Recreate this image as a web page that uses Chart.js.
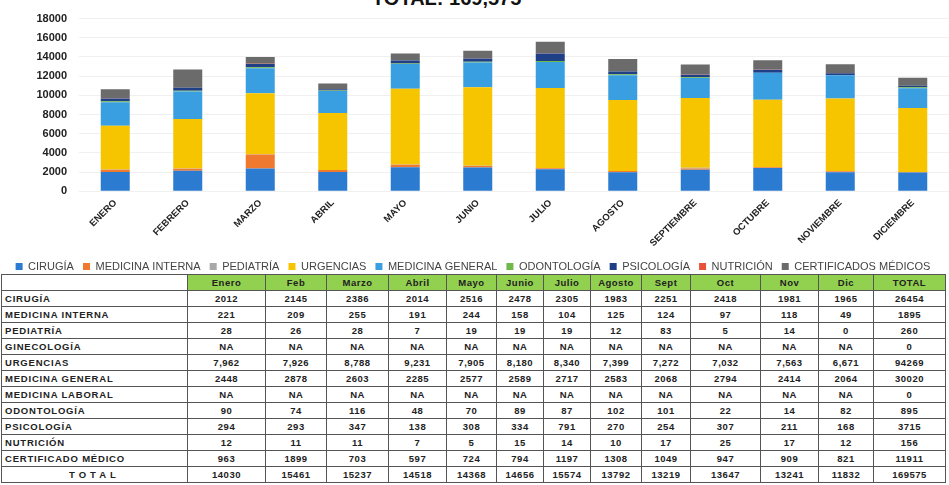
<!DOCTYPE html>
<html>
<head>
<meta charset="utf-8">
<script src="https://cdn.jsdelivr.net/npm/chart.js@4.4.1/dist/chart.umd.min.js"></script>
<style>
  html, body { margin: 0; padding: 0; background: #fff; }
  body { width: 949px; height: 485px; position: relative; overflow: hidden; font-family: Arial, "Liberation Sans", sans-serif; }
  #title { position: absolute; left: 372px; top: -13px; font-size: 20px; font-weight: bold; color: #111; white-space: nowrap; }
  #chartBox { position: absolute; left: 0; top: 0; width: 949px; height: 282px; }
  #tbl { position: absolute; left: 1px; top: 274px; border-collapse: collapse; table-layout: fixed; background: #fff; }
  #tbl td { border: 1px solid #555; height: 15px; padding: 0 3px; font-size: 9.5px; font-weight: bold; color: #222;
            letter-spacing: 0.5px; text-align: center; white-space: nowrap; overflow: hidden; }
  #tbl td.lbl { text-align: left; letter-spacing: 0.8px; }
  #tbl tr.head td { background: #92d050; }
  #tbl tr.head td.blank { background: #fff; }
  #tbl tr.tot td.lbl { text-align: center; letter-spacing: 4px; }
</style>
</head>
<body>
<div id="title">TOTAL: 169,575</div>
<div id="chartBox"><canvas id="c"></canvas></div>
<table id="tbl"></table>
<script>
const months = ['ENERO', 'FEBRERO', 'MARZO', 'ABRIL', 'MAYO', 'JUNIO', 'JULIO', 'AGOSTO', 'SEPTIEMBRE', 'OCTUBRE', 'NOVIEMBRE', 'DICIEMBRE'];

// chart series
const cirugia      = [2012, 2145, 2386, 2014, 2516, 2478, 2305, 1983, 2251, 2418, 1981, 1965];
const medInterna   = [221, 209, 1436, 191, 244, 158, 104, 125, 124, 97, 118, 49];
const pediatria    = [28, 26, 28, 7, 19, 19, 19, 12, 83, 5, 14, 0];
const urgencias    = [4580, 5155, 6360, 5950, 7905, 8180, 8340, 7399, 7272, 7032, 7563, 6671];
const medGeneral   = [2448, 2878, 2603, 2285, 2577, 2589, 2717, 2583, 2068, 2794, 2414, 2064];
const odontologia  = [90, 74, 116, 48, 70, 89, 87, 102, 101, 22, 14, 82];
const psicologia   = [294, 293, 347, 138, 308, 334, 791, 270, 254, 307, 211, 168];
const nutricion    = [12, 11, 11, 7, 5, 15, 14, 10, 17, 25, 17, 12];
const certificados = [963, 1899, 703, 597, 724, 794, 1197, 1308, 1049, 947, 909, 821];

const yMax = 18000;
const yStep = 2000;

// table below the chart
const tableHead = ['Enero', 'Feb', 'Marzo', 'Abril', 'Mayo', 'Junio', 'Julio', 'Agosto', 'Sept', 'Oct', 'Nov', 'Dic', 'TOTAL'];
const rowCirugia   = ['2012', '2145', '2386', '2014', '2516', '2478', '2305', '1983', '2251', '2418', '1981', '1965', '26454'];
const rowMedInt    = ['221', '209', '255', '191', '244', '158', '104', '125', '124', '97', '118', '49', '1895'];
const rowPediatria = ['28', '26', '28', '7', '19', '19', '19', '12', '83', '5', '14', '0', '260'];
const rowGineco    = ['NA', 'NA', 'NA', 'NA', 'NA', 'NA', 'NA', 'NA', 'NA', 'NA', 'NA', 'NA', '0'];
const rowUrgencias = ['7,962', '7,926', '8,788', '9,231', '7,905', '8,180', '8,340', '7,399', '7,272', '7,032', '7,563', '6,671', '94269'];
const rowMedGen    = ['2448', '2878', '2603', '2285', '2577', '2589', '2717', '2583', '2068', '2794', '2414', '2064', '30020'];
const rowMedLab    = ['NA', 'NA', 'NA', 'NA', 'NA', 'NA', 'NA', 'NA', 'NA', 'NA', 'NA', 'NA', '0'];
const rowOdonto    = ['90', '74', '116', '48', '70', '89', '87', '102', '101', '22', '14', '82', '895'];
const rowPsico     = ['294', '293', '347', '138', '308', '334', '791', '270', '254', '307', '211', '168', '3715'];
const rowNutri     = ['12', '11', '11', '7', '5', '15', '14', '10', '17', '25', '17', '12', '156'];
const rowCert      = ['963', '1899', '703', '597', '724', '794', '1197', '1308', '1049', '947', '909', '821', '11911'];
const rowTotal     = ['14030', '15461', '15237', '14518', '14368', '14656', '15574', '13792', '13219', '13647', '13241', '11832', '169575'];

const colWidths = [186, 78, 61, 62, 58, 50, 47, 47, 51, 49, 70, 58, 55, 72];

function buildTable() {
  const rows = [
    ['CIRUGÍA', rowCirugia], ['MEDICINA INTERNA', rowMedInt], ['PEDIATRÍA', rowPediatria],
    ['GINECOLOGÍA', rowGineco], ['URGENCIAS', rowUrgencias], ['MEDICINA GENERAL', rowMedGen],
    ['MEDICINA LABORAL', rowMedLab], ['ODONTOLOGÍA', rowOdonto], ['PSICOLOGÍA', rowPsico],
    ['NUTRICIÓN', rowNutri], ['CERTIFICADO MÉDICO', rowCert], ['TOTAL', rowTotal]
  ];
  let html = '<colgroup>' + colWidths.map(w => '<col style="width:' + w + 'px">').join('') + '</colgroup>';
  html += '<tr class="head"><td class="blank"></td>' + tableHead.map(h => '<td>' + h + '</td>').join('') + '</tr>';
  rows.forEach(r => {
    html += '<tr' + (r[0] === 'TOTAL' ? ' class="tot"' : '') + '><td class="lbl">' + r[0] + '</td>' +
      r[1].map(v => '<td>' + v + '</td>').join('') + '</tr>';
  });
  document.getElementById('tbl').innerHTML = html;
}
buildTable();

function ds(label, data, color) {
  return { label, data, backgroundColor: color, borderWidth: 0, categoryPercentage: 0.8, barPercentage: 0.5 };
}

new Chart(document.getElementById('c'), {
  type: 'bar',
  data: {
    labels: months,
    datasets: [
      ds('CIRUGÍA', cirugia, '#2b7bd1'),
      ds('MEDICINA INTERNA', medInterna, '#ef7a2f'),
      ds('PEDIATRÍA', pediatria, '#a8a8a8'),
      ds('URGENCIAS', urgencias, '#f7c400'),
      ds('MEDICINA GENERAL', medGeneral, '#3a9fe0'),
      ds('ODONTOLOGÍA', odontologia, '#6fb94a'),
      ds('PSICOLOGÍA', psicologia, '#1f3f86'),
      ds('NUTRICIÓN', nutricion, '#e8523a'),
      ds('CERTIFICADOS MÉDICOS', certificados, '#6b6b6b')
    ]
  },
  options: {
    responsive: true,
    maintainAspectRatio: false,
    animation: false,
    layout: { padding: { left: 0, right: 0, top: 1, bottom: 0 } },
    plugins: {
      legend: {
        position: 'bottom',
        labels: {
          boxWidth: 7, boxHeight: 7, padding: 6, color: '#444', font: { size: 11, family: 'Arial' },
          generateLabels: (chart) => Chart.defaults.plugins.legend.labels.generateLabels(chart)
            .map(l => Object.assign(l, { text: l.text + ' ' }))
        }
      },
      tooltip: { enabled: false }
    },
    scales: {
      x: {
        stacked: true,
        grid: { display: false, drawTicks: false },
        border: { display: false },
        ticks: { color: '#222', minRotation: 45, maxRotation: 45, padding: 6, font: { size: 9.5, weight: 'bold', family: 'Arial' } }
      },
      y: {
        stacked: true,
        min: 0,
        max: yMax,
        afterFit: (axis) => { axis.width = 79; },
        grid: { color: '#f0f0f0', drawTicks: false },
        border: { display: false },
        ticks: {
          stepSize: yStep, autoSkip: false, color: '#222', padding: 12,
          font: { size: 11, weight: 'bold', family: 'Arial' },
          callback: (v) => String(v)
        }
      }
    }
  }
});
</script>
</body>
</html>
